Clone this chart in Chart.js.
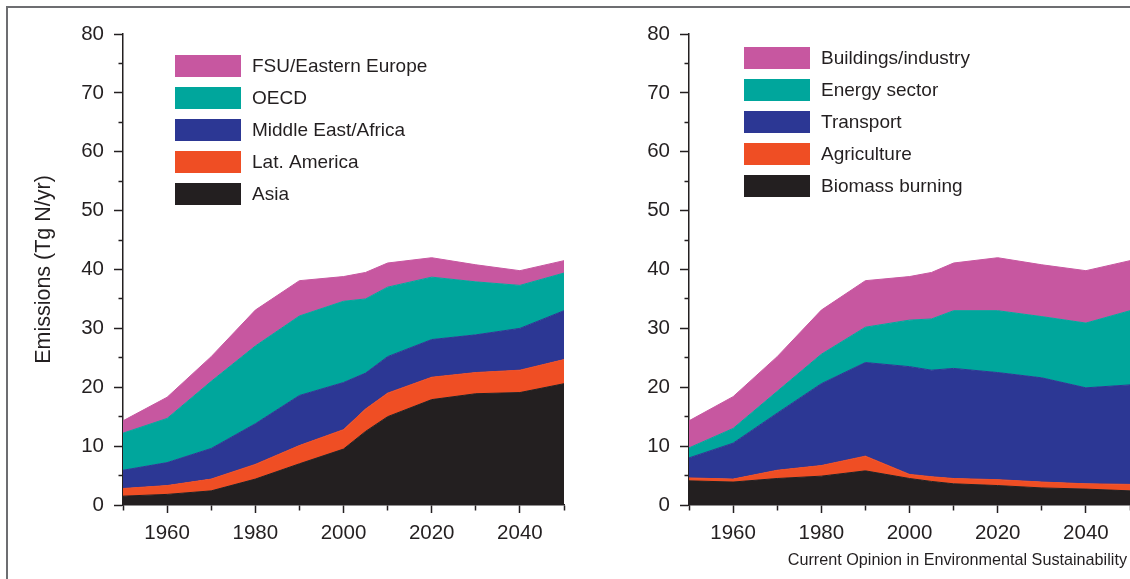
<!DOCTYPE html>
<html>
<head>
<meta charset="utf-8">
<script src="https://cdn.jsdelivr.net/npm/chart.js@4.4.0/dist/chart.umd.min.js"></script>
<style>
  html, body { margin: 0; padding: 0; background: #fff; overflow: hidden; }
  body { width: 1130px; height: 579px; position: relative; font-family: "Liberation Sans", Arial, sans-serif; }
  #frame { position: absolute; left: 6px; top: 6px; width: 1200px; height: 700px;
           border-top: 2px solid #6d6e71; border-left: 2px solid #6d6e71; }
  #left { position: absolute; left: 0; top: 0; }
  #right { position: absolute; left: 570px; top: 0; }
  #credit { position: absolute; right: 3px; top: 550px; font-size: 16.2px; color: #231f20; white-space: nowrap; }
</style>
</head>
<body>
<div id="frame"></div>
<canvas id="left" width="572" height="579"></canvas>
<canvas id="right" width="568" height="579"></canvas>
<div id="credit">Current Opinion in Environmental Sustainability</div>
<script>
const years = [1950, 1960, 1970, 1980, 1990, 2000, 2005, 2010, 2020, 2030, 2040, 2050];

// by region, Tg N/yr (stacked bottom to top)
const asia     = [1.5, 1.8, 2.4, 4.4, 7.0, 9.5, 12.5, 15.0, 17.9, 18.9, 19.1, 20.6];
const latAm    = [1.3, 1.5, 2.0, 2.5, 3.1, 3.3, 3.8, 4.0, 3.8, 3.6, 3.8, 4.1];
const meAfrica = [3.1, 3.9, 5.2, 6.9, 8.5, 8.0, 6.1, 6.2, 6.4, 6.4, 7.1, 8.3];
const oecd     = [6.3, 7.5, 11.4, 13.2, 13.5, 13.8, 12.6, 11.8, 10.6, 9.0, 7.3, 6.4];
const fsu      = [2.1, 3.6, 4.2, 6.1, 6.0, 4.2, 4.5, 4.1, 3.3, 2.9, 2.5, 2.1];

// by sector, Tg N/yr (stacked bottom to top)
const biomass   = [4.1, 3.9, 4.5, 4.9, 5.8, 4.5, 4.0, 3.6, 3.3, 2.9, 2.7, 2.4];
const agri      = [0.5, 0.5, 1.4, 1.8, 2.5, 0.7, 0.8, 0.9, 1.0, 1.0, 0.9, 1.1];
const transport = [3.4, 6.1, 9.7, 13.9, 15.9, 18.3, 18.1, 18.7, 18.2, 17.7, 16.3, 16.9];
const energy    = [1.7, 2.5, 3.7, 5.0, 6.0, 7.9, 8.7, 9.8, 10.5, 10.4, 11.0, 12.6];
const buildings = [4.6, 5.4, 5.9, 7.5, 7.9, 7.4, 7.9, 8.1, 9.0, 8.8, 8.9, 8.5];

const regionLabels = ['Asia', 'Lat. America', 'Middle East/Africa', 'OECD', 'FSU/Eastern Europe'];
const sectorLabels = ['Biomass burning', 'Agriculture', 'Transport', 'Energy sector', 'Buildings/industry'];

const yTicks = [0, 10, 20, 30, 40, 50, 60, 70, 80];
const xTicks = [1960, 1980, 2000, 2020, 2040];

const palette = ['#231f20', '#ef4e24', '#2c3794', '#00a69c', '#c757a0'];
const ink = '#231f20';
const fontFamily = '"Liberation Sans", Arial, sans-serif';

// legend drawn inside the plot, top series first
const boxLegend = {
  id: 'boxLegend',
  afterDraw(chart, args, opts) {
    const ctx = chart.ctx;
    const sets = chart.data.datasets.slice().reverse();
    ctx.save();
    ctx.font = '19px ' + fontFamily;
    ctx.textBaseline = 'middle';
    sets.forEach((ds, i) => {
      const y = opts.y + i * 32;
      ctx.fillStyle = ds.backgroundColor;
      ctx.fillRect(opts.x, y, 66, 22);
      ctx.fillStyle = ink;
      ctx.fillText(ds.label, opts.x + 77, y + 12);
    });
    ctx.restore();
  }
};

function makeChart(id, series, labels, opts) {
  const datasets = series.map((vals, i) => ({
    label: labels[i],
    data: years.map((yr, j) => ({ x: yr, y: vals[j] })),
    backgroundColor: palette[i],
    borderColor: palette[i],
    borderWidth: 1,
    pointRadius: 0,
    tension: 0,
    fill: i === 0 ? 'origin' : '-1'
  }));

  return new Chart(document.getElementById(id), {
    type: 'line',
    data: { datasets },
    plugins: [boxLegend],
    options: {
      responsive: false,
      animation: false,
      layout: { padding: { top: 34, right: 8, bottom: 0, left: 0 } },
      plugins: {
        legend: { display: false },
        tooltip: { enabled: false },
        boxLegend: opts.legend
      },
      scales: {
        x: {
          type: 'linear',
          min: 1950,
          max: 2050,
          ticks: {
            stepSize: 10,
            autoSkip: false,
            maxRotation: 0,
            color: ink,
            padding: 8,
            font: { size: 20.5, family: fontFamily },
            callback: v => xTicks.includes(v) ? String(v) : ''
          },
          grid: {
            drawOnChartArea: false, tickLength: 8, tickColor: ink, tickWidth: 1.5,
            // short minor ticks (x ticks are drawn from the axis outward)
            tickBorderDash: c => (c.tick && xTicks.includes(c.tick.value)) ? [] : [5, 20]
          },
          border: { display: true, color: ink, width: 1.5 },
          afterFit: s => { s.height = 74; }
        },
        y: {
          stacked: true,
          min: 0,
          max: 80,
          ticks: {
            stepSize: 5,
            color: ink,
            padding: 10,
            font: { size: 20.5, family: fontFamily },
            callback: v => yTicks.includes(v) ? String(v) : ''
          },
          grid: {
            drawOnChartArea: false, tickLength: 9, tickColor: ink, tickWidth: 1.5,
            // y ticks are drawn from the outside in, so skip the outer part
            tickBorderDash: c => (c.tick && yTicks.includes(c.tick.value)) ? [] : [0, 4.5, 20]
          },
          border: { display: true, color: ink, width: 1.5 },
          title: {
            display: !!opts.yTitle,
            text: opts.yTitle || '',
            color: ink,
            font: { size: 21.5, family: fontFamily },
            padding: { top: 31, bottom: 0 }
          },
          afterFit: s => { s.width = opts.yWidth; }
        }
      }
    }
  });
}

makeChart('left', [asia, latAm, meAfrica, oecd, fsu], regionLabels, {
  yWidth: 123, yTitle: 'Emissions (Tg N/yr)', legend: { x: 175, y: 55 }
});

makeChart('right', [biomass, agri, transport, energy, buildings], sectorLabels, {
  yWidth: 119, legend: { x: 174, y: 47 }
});
</script>
</body>
</html>
